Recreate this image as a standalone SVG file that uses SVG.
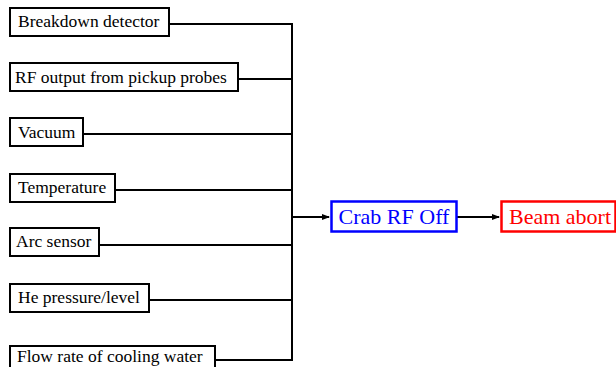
<svg xmlns="http://www.w3.org/2000/svg" width="616" height="367" viewBox="0 0 616 367">
  <defs>
    <marker id="arrow" markerWidth="8" markerHeight="8" refX="7" refY="4" orient="auto" markerUnits="userSpaceOnUse">
      <path d="M0,1 L8,4 L0,7 Z" fill="#000"/>
    </marker>
  </defs>
  <rect width="616" height="367" fill="#fff"/>

  <!-- connectors: feeder lines into the vertical bus, then the output chain -->
  <g id="connectors" fill="none" stroke="#000" stroke-width="2">
    <path d="M169,24 H292 M238,79 H292 M83,134 H292 M115,190 H292 M99,245 H292 M149,300 H292 M215,360 H292 M292,23 V361"/>
    <path d="M292,217 H329" marker-end="url(#arrow)"/>
    <path d="M457,217 H499" marker-end="url(#arrow)"/>
  </g>

  <!-- interlock sources -->
  <g id="breakdown-detector">
    <rect x="10" y="8" width="159" height="28" fill="#fff" stroke="#000" stroke-width="2"/>
    <text x="18" y="27" style="font-family: 'Liberation Serif', serif; font-size: 17.5px">Breakdown detector</text>
  </g>
  <g id="rf-output">
    <rect x="10" y="63" width="228" height="28" fill="#fff" stroke="#000" stroke-width="2"/>
    <text x="15" y="83" style="font-family: 'Liberation Serif', serif; font-size: 17.5px">RF output from pickup probes</text>
  </g>
  <g id="vacuum">
    <rect x="10" y="118" width="73" height="28" fill="#fff" stroke="#000" stroke-width="2"/>
    <text x="18" y="138" style="font-family: 'Liberation Serif', serif; font-size: 17.5px">Vacuum</text>
  </g>
  <g id="temperature">
    <rect x="10" y="174" width="105" height="28" fill="#fff" stroke="#000" stroke-width="2"/>
    <text x="18" y="193" style="font-family: 'Liberation Serif', serif; font-size: 17.5px">Temperature</text>
  </g>
  <g id="arc-sensor">
    <rect x="10" y="228" width="89" height="28" fill="#fff" stroke="#000" stroke-width="2"/>
    <text x="16" y="247" style="font-family: 'Liberation Serif', serif; font-size: 17.5px">Arc sensor</text>
  </g>
  <g id="he-pressure">
    <rect x="10" y="284" width="139" height="28" fill="#fff" stroke="#000" stroke-width="2"/>
    <text x="18" y="303" style="font-family: 'Liberation Serif', serif; font-size: 17.5px">He pressure/level</text>
  </g>
  <g id="flow-rate">
    <rect x="10" y="346" width="205" height="28" fill="#fff" stroke="#000" stroke-width="2"/>
    <text x="17" y="362" style="font-family: 'Liberation Serif', serif; font-size: 17.5px">Flow rate of cooling water</text>
  </g>

  <!-- outputs -->
  <g id="crab-rf-off">
    <rect x="331.5" y="201.5" width="125" height="30" fill="#fff" stroke="#00f" stroke-width="2.5"/>
    <text x="394" y="223.5" text-anchor="middle" fill="#00f" style="font-family: 'Liberation Serif', serif; font-size: 22px">Crab RF Off</text>
  </g>
  <g id="beam-abort">
    <rect x="501.5" y="201.5" width="114" height="30" fill="#fff" stroke="#f00" stroke-width="2.5"/>
    <text x="509" y="223.5" fill="#f00" style="font-family: 'Liberation Serif', serif; font-size: 22px">Beam abort</text>
  </g>
</svg>
